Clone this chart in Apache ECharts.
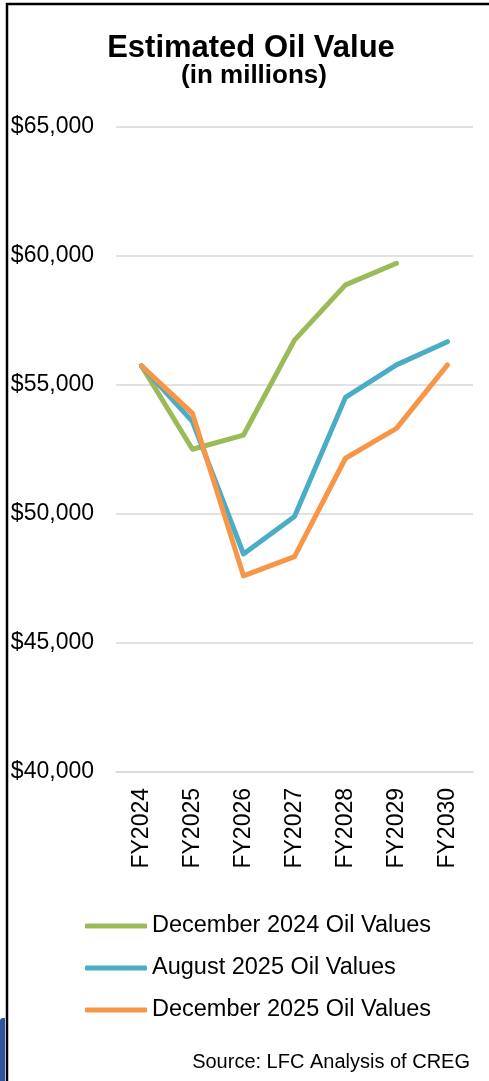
<!DOCTYPE html>
<html>
<head>
<meta charset="utf-8">
<script src="https://cdn.jsdelivr.net/npm/echarts@6/dist/echarts.min.js"></script>
<style>
  html, body { margin: 0; padding: 0; background: #fff; }
  #chart { width: 489px; height: 1081px; }
</style>
</head>
<body>
<div id="chart"></div>
<script>
// fiscal years on the x axis
var years = ["FY2024", "FY2025", "FY2026", "FY2027", "FY2028", "FY2029", "FY2030"];

// oil value estimates, millions of dollars
var dec2024 = [55740, 52510, 53060, 56740, 58880, 59720];
var aug2025 = [55740, 53580, 48450, 49900, 54520, 55780, 56680];
var dec2025 = [55740, 53900, 47600, 48350, 52160, 53320, 55780];

var seriesNames = ["December 2024 Oil Values", "August 2025 Oil Values", "December 2025 Oil Values"];
var seriesColors = ["#9bbb59", "#4bacc6", "#f79646"];

var font = "'Liberation Sans', Arial, sans-serif";

var myChart = echarts.init(document.getElementById("chart"));

function lineSeries(i, values) {
  return {
    name: seriesNames[i],
    type: "line",
    data: values,
    symbol: "none",
    smooth: false,
    color: seriesColors[i],
    lineStyle: { width: 5, color: seriesColors[i], cap: "round", join: "round" },
    z: 3 + i
  };
}

var option = {
  backgroundColor: "#fff",
  animation: false,
  grid: { left: 116, right: 16, top: 127, bottom: 309, containLabel: false },
  xAxis: {
    type: "category",
    data: years,
    boundaryGap: true,
    axisLine: { show: true, lineStyle: { color: "#d9d9d9", width: 1.5 } },
    axisTick: { show: false },
    axisLabel: { rotate: 90, margin: 16, fontSize: 23, color: "#000", fontFamily: font }
  },
  yAxis: {
    type: "value",
    min: 40000,
    max: 65000,
    interval: 5000,
    axisLine: { show: false },
    axisTick: { show: false },
    splitLine: { lineStyle: { color: "#d9d9d9", width: 1.5 } },
    axisLabel: {
      margin: 22,
      fontSize: 23,
      color: "#000",
      fontFamily: font,
      formatter: function (v) { return "$" + v.toLocaleString("en-US"); }
    }
  },
  legend: {
    orient: "vertical",
    left: 85,
    top: 914,
    padding: 0,
    itemWidth: 62,
    itemHeight: 5,
    itemGap: 18,
    icon: "roundRect",
    data: seriesNames,
    textStyle: { fontSize: 23.5, lineHeight: 24, color: "#000", fontFamily: font }
  },
  series: [
    lineSeries(0, dec2024),
    lineSeries(1, aug2025),
    lineSeries(2, dec2025)
  ],
  graphic: [
    {
      type: "text", x: 251, y: 48,
      style: { text: "Estimated Oil Value", fill: "#000", font: "bold 31px " + font, textAlign: "center", textVerticalAlign: "middle" }
    },
    {
      type: "text", x: 254, y: 76,
      style: { text: "(in millions)", fill: "#000", font: "bold 26px " + font, textAlign: "center", textVerticalAlign: "middle" }
    },
    {
      type: "text", x: 470, y: 1062,
      style: { text: "Source: LFC Analysis of CREG", fill: "#000", font: "20px " + font, textAlign: "right", textVerticalAlign: "middle" }
    },
    {
      type: "polyline",
      shape: { points: [[7, 1081], [7, 4], [489, 4]] },
      style: { stroke: "#000", lineWidth: 2.5, fill: null }
    },
    {
      type: "rect",
      shape: { x: 0, y: 1018, width: 5, height: 63, r: [3, 0, 0, 0] },
      style: { fill: "#2f55a0" }
    }
  ]
};

myChart.setOption(option);
</script>
</body>
</html>
